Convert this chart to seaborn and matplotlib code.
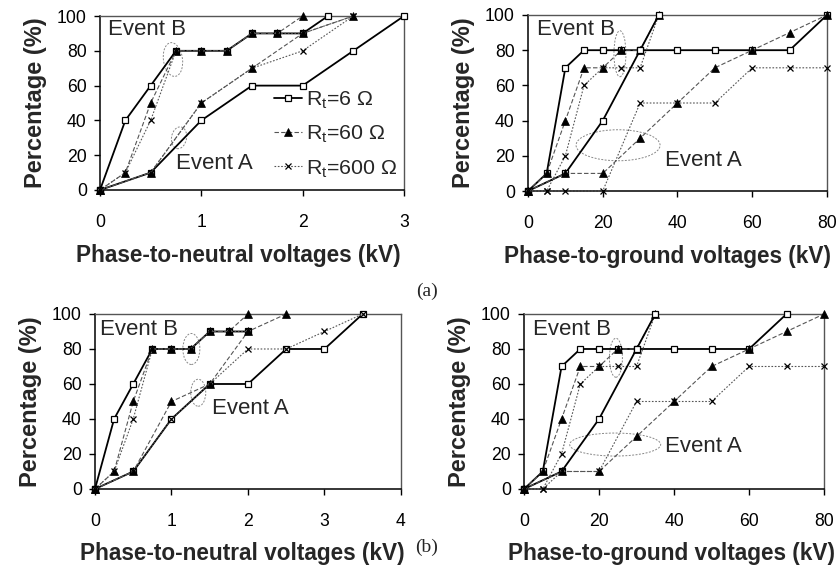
import matplotlib
matplotlib.use("Agg")

import matplotlib.pyplot as plt
import matplotlib.transforms as mtransforms
from matplotlib.patches import Ellipse
import seaborn as sns

# ---- data ------------------------------------------------------------------
# (a) phase-to-neutral
AN_B6_X = [0, 0.25, 0.5, 0.75, 1, 1.25, 1.5, 1.75, 2, 2.25]
AN_B6_Y = [0, 40, 60, 80, 80, 80, 90, 90, 90, 100]
AN_B60_X = [0, 0.25, 0.5, 0.75, 1, 1.25, 1.5, 1.75, 2]
AN_B60_Y = [0, 10, 50, 80, 80, 80, 90, 90, 100]
AN_B600_X = [0, 0.25, 0.5, 0.75, 1, 1.25, 1.5, 1.75, 2, 2.5]
AN_B600_Y = [0, 10, 40, 80, 80, 80, 90, 90, 90, 100]
AN_A6_X = [0, 0.5, 1, 1.5, 2, 2.5, 3]
AN_A6_Y = [0, 10, 40, 60, 60, 80, 100]
AN_A60_X = [0, 0.5, 1, 1.5, 2, 2.5]
AN_A60_Y = [0, 10, 50, 70, 90, 100]
AN_A600_X = [0, 0.5, 1, 1.5, 2, 2.5]
AN_A600_Y = [0, 10, 50, 70, 80, 100]

# (a) phase-to-ground
AG_B6_X = [0, 5, 10, 15, 20, 25, 30, 40, 50, 60, 70, 80]
AG_B6_Y = [0, 10, 70, 80, 80, 80, 80, 80, 80, 80, 80, 100]
AG_B60_X = [0, 5, 10, 15, 20, 25, 30, 35]
AG_B60_Y = [0, 10, 40, 70, 70, 80, 80, 100]
AG_B600_X = [0, 5, 10, 15, 20, 25, 30, 35]
AG_B600_Y = [0, 0, 20, 60, 70, 70, 70, 100]
AG_A6_X = [0, 10, 20, 30, 35]
AG_A6_Y = [0, 10, 40, 80, 100]
AG_A60_X = [0, 10, 20, 30, 40, 50, 60, 70, 80]
AG_A60_Y = [0, 10, 10, 30, 50, 70, 80, 90, 100]
AG_A600_X = [0, 5, 10, 20, 30, 40, 50, 60, 70, 80]
AG_A600_Y = [0, 0, 0, 0, 50, 50, 50, 70, 70, 70]

# (b) phase-to-neutral
BN_B6_X = [0, 0.25, 0.5, 0.75, 1, 1.25, 1.5, 1.75, 2]
BN_B6_Y = [0, 40, 60, 80, 80, 80, 90, 90, 90]
BN_B60_X = [0, 0.25, 0.5, 0.75, 1, 1.25, 1.5, 1.75, 2]
BN_B60_Y = [0, 10, 50, 80, 80, 80, 90, 90, 100]
BN_B600_X = [0, 0.25, 0.5, 0.75, 1, 1.25, 1.5, 1.75, 2]
BN_B600_Y = [0, 10, 40, 80, 80, 80, 90, 90, 90]
BN_A6_X = [0, 0.5, 1, 1.5, 2, 2.5, 3, 3.5]
BN_A6_Y = [0, 10, 40, 60, 60, 80, 80, 100]
BN_A60_X = [0, 0.5, 1, 1.5, 2, 2.5]
BN_A60_Y = [0, 10, 50, 60, 90, 100]
BN_A600_X = [0, 0.5, 1, 1.5, 2, 2.5, 3, 3.5]
BN_A600_Y = [0, 10, 40, 60, 80, 80, 90, 100]

# (b) phase-to-ground
BG_B6_X = [0, 5, 10, 15, 20, 25, 30, 40, 50, 60, 70]
BG_B6_Y = [0, 10, 70, 80, 80, 80, 80, 80, 80, 80, 100]
BG_B60_X = [0, 5, 10, 15, 20, 25, 30, 35]
BG_B60_Y = [0, 10, 40, 70, 70, 80, 80, 100]
BG_B600_X = [0, 5, 10, 15, 20, 25, 30, 35]
BG_B600_Y = [0, 0, 20, 60, 70, 70, 70, 100]
BG_A6_X = [0, 10, 20, 30, 35]
BG_A6_Y = [0, 10, 40, 80, 100]
BG_A60_X = [0, 10, 20, 30, 40, 50, 60, 70, 80]
BG_A60_Y = [0, 10, 10, 30, 50, 70, 80, 90, 100]
BG_A600_X = [0, 5, 10, 20, 30, 40, 50, 60, 70, 80]
BG_A600_Y = [0, 0, 10, 10, 50, 50, 50, 70, 70, 70]

LEGEND_LABELS = [r"R$_\mathregular{t}$=6 Ω", r"R$_\mathregular{t}$=60 Ω",
                 r"R$_\mathregular{t}$=600 Ω"]
Y_TICKS = [0, 20, 40, 60, 80, 100]
NEUTRAL_TICKS_A = [0, 1, 2, 3]
NEUTRAL_TICKS_B = [0, 1, 2, 3, 4]
GROUND_TICKS = [0, 20, 40, 60, 80]

# ---- styles -----------------------------------------------------------------
STYLE_6 = dict(color="black", linestyle="-", linewidth=1.3, marker="s",
               markersize=4.5, markerfacecolor="white", markeredgecolor="black",
               markeredgewidth=0.9)
STYLE_60 = dict(color="#555555", linestyle=(0, (4, 2)), linewidth=0.8, marker="^",
                markersize=5.5, markerfacecolor="black", markeredgecolor="black",
                markeredgewidth=0.5)
STYLE_600 = dict(color="#555555", linestyle=(0, (1.5, 1.5)), linewidth=0.8, marker="x",
                 markersize=4.5, markerfacecolor="black", markeredgecolor="black",
                 markeredgewidth=0.9)
EVENT_SIZE = 16

sns.set_style("ticks")
plt.rcParams["font.family"] = ["Liberation Sans", "DejaVu Sans"]
plt.rcParams["mathtext.fontset"] = "custom"
plt.rcParams["mathtext.rm"] = "Liberation Sans"

fig = plt.figure(figsize=(8.39, 5.68), dpi=100)


def draw_panel(ax, series, xmax, xticks, xlabel, xlabel_pos):
    for (xs, ys), style, label in zip(series, [STYLE_6, STYLE_60, STYLE_600] * 2,
                                      LEGEND_LABELS + [None] * 3):
        sns.lineplot(x=xs, y=ys, ax=ax, label=label, legend=False,
                     clip_on=False, zorder=3, **style)
    ax.set_xlim(0, xmax)
    ax.set_ylim(0, 100)
    ax.set_xticks(xticks)
    ax.set_yticks(Y_TICKS)
    ax.tick_params(axis="both", direction="out", length=4.5, width=1,
                   labelsize=12.7, colors="black")
    ax.tick_params(axis="x", pad=13)
    ax.tick_params(axis="y", pad=5)
    ax.set_xlabel(xlabel, fontsize=16.3, fontweight="bold")
    ax.xaxis.set_label_coords(*xlabel_pos)
    ax.set_ylabel("Percentage (%)", fontsize=17, fontweight="bold", labelpad=7)
    for side in ("left", "bottom"):
        ax.spines[side].set_color("black")
        ax.spines[side].set_linewidth(1.1)
    for side in ("top", "right"):
        ax.spines[side].set_visible(True)
        ax.spines[side].set_color("#555555")
        ax.spines[side].set_linewidth(1.0)


def add_ellipse(ax, cx, cy, w_px, h_px, angle=0):
    # ellipse sized in pixels, centred on a data point
    trans = fig.dpi_scale_trans + mtransforms.ScaledTranslation(cx, cy, ax.transData)
    ax.add_patch(Ellipse((0, 0), w_px / 100, h_px / 100, angle=angle, fill=False,
                         edgecolor="#888888", linestyle=(0, (2, 1.5)),
                         linewidth=0.7, transform=trans, clip_on=False))


# (a) left
ax1 = fig.add_axes([0.1192, 0.6655, 0.3623, 0.3063])
draw_panel(ax1, [(AN_B6_X, AN_B6_Y), (AN_B60_X, AN_B60_Y), (AN_B600_X, AN_B600_Y),
                 (AN_A6_X, AN_A6_Y), (AN_A60_X, AN_A60_Y), (AN_A600_X, AN_A600_Y)],
           3, NEUTRAL_TICKS_A, "Phase-to-neutral voltages (kV)", (0.456, -0.31))
ax1.text(0.08, 92, "Event B", fontsize=EVENT_SIZE, va="center", ha="left")
ax1.text(0.75, 15.5, "Event A", fontsize=EVENT_SIZE, va="center", ha="left")
add_ellipse(ax1, 0.72, 75, 19, 34, angle=8)
add_ellipse(ax1, 0.78, 30, 15, 22, angle=-10)
ax1.legend(loc="lower right", bbox_to_anchor=(0.98, 0.06), frameon=False,
           fontsize=15.4, handlelength=1.3, handletextpad=0.2, labelspacing=0.6,
           borderpad=0, borderaxespad=0)

# (a) right
ax2 = fig.add_axes([0.6293, 0.6637, 0.3564, 0.3099])
draw_panel(ax2, [(AG_B6_X, AG_B6_Y), (AG_B60_X, AG_B60_Y), (AG_B600_X, AG_B600_Y),
                 (AG_A6_X, AG_A6_Y), (AG_A60_X, AG_A60_Y), (AG_A600_X, AG_A600_Y)],
           80, GROUND_TICKS, "Phase-to-ground voltages (kV)", (0.467, -0.305))
ax2.text(2.4, 91.5, "Event B", fontsize=EVENT_SIZE, va="center", ha="left")
ax2.text(36.7, 17.6, "Event A", fontsize=EVENT_SIZE, va="center", ha="left")
add_ellipse(ax2, 24.6, 78, 12, 46)
add_ellipse(ax2, 24.1, 26, 84, 31)

# (b) left
ax3 = fig.add_axes([0.1132, 0.1391, 0.3647, 0.3081])
draw_panel(ax3, [(BN_B6_X, BN_B6_Y), (BN_B60_X, BN_B60_Y), (BN_B600_X, BN_B600_Y),
                 (BN_A6_X, BN_A6_Y), (BN_A60_X, BN_A60_Y), (BN_A600_X, BN_A600_Y)],
           4, NEUTRAL_TICKS_B, "Phase-to-neutral voltages (kV)", (0.482, -0.303))
ax3.text(0.065, 91, "Event B", fontsize=EVENT_SIZE, va="center", ha="left")
ax3.text(1.53, 46, "Event A", fontsize=EVENT_SIZE, va="center", ha="left")
add_ellipse(ax3, 1.26, 80, 17, 31)
add_ellipse(ax3, 1.35, 55, 15, 27)

# (b) right
ax4 = fig.add_axes([0.6246, 0.1391, 0.3576, 0.3081])
draw_panel(ax4, [(BG_B6_X, BG_B6_Y), (BG_B60_X, BG_B60_Y), (BG_B600_X, BG_B600_Y),
                 (BG_A6_X, BG_A6_Y), (BG_A60_X, BG_A60_Y), (BG_A600_X, BG_A600_Y)],
           80, GROUND_TICKS, "Phase-to-ground voltages (kV)", (0.49, -0.303))
ax4.text(2.4, 91.4, "Event B", fontsize=EVENT_SIZE, va="center", ha="left")
ax4.text(37.6, 24, "Event A", fontsize=EVENT_SIZE, va="center", ha="left")
add_ellipse(ax4, 24.5, 75, 13, 39)
add_ellipse(ax4, 24.3, 25.4, 91, 23)

fig.text(427 / 839, 1 - 291 / 568, "(a)", fontsize=14, ha="center", va="center",
         family=["Liberation Serif", "DejaVu Serif"])
fig.text(427 / 839, 1 - 547 / 568, "(b)", fontsize=14, ha="center", va="center",
         family=["Liberation Serif", "DejaVu Serif"])

fig.savefig("out.png", dpi=100)
plt.close(fig)
